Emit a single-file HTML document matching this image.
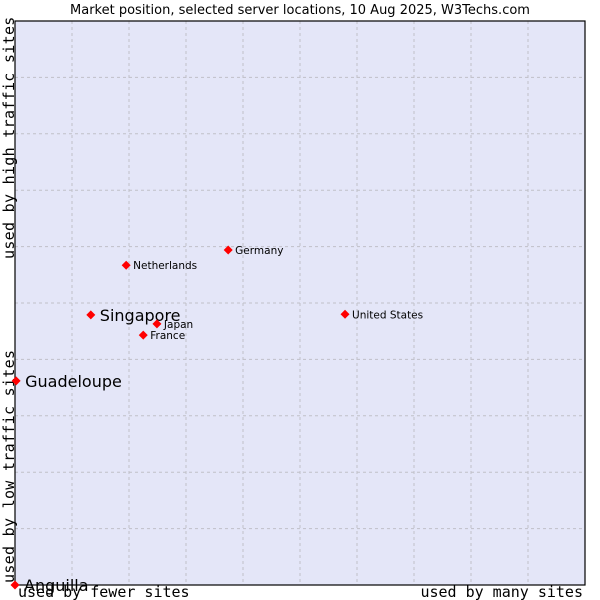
<!DOCTYPE html>
<html><head><meta charset="utf-8"><style>
body{margin:0;background:#fff;width:600px;height:600px;overflow:hidden}
svg{display:block}
</style></head><body>
<svg id="chart" width="600" height="600" xmlns="http://www.w3.org/2000/svg">
<text x="300" y="14" text-anchor="middle" font-family="'DejaVu Sans',sans-serif" font-size="13" fill="#000">Market position, selected server locations, 10 Aug 2025, W3Techs.com</text>
<rect x="15" y="21" width="570" height="564" fill="#e4e6f8"/>
<g id="grid"></g>
<rect x="15" y="21" width="570" height="564" fill="none" stroke="#000" stroke-width="1.2"/>
<text transform="translate(14,259) rotate(-90)" font-family="'DejaVu Sans Mono','Liberation Mono',monospace" font-size="15" letter-spacing="0.3">used by high traffic sites</text>
<text transform="translate(14,583) rotate(-90)" font-family="'DejaVu Sans Mono','Liberation Mono',monospace" font-size="15" letter-spacing="0.3">used by low traffic sites</text>
<text x="18" y="597" font-family="'DejaVu Sans Mono','Liberation Mono',monospace" font-size="15">used by fewer sites</text>
<text x="583" y="597" text-anchor="end" font-family="'DejaVu Sans Mono','Liberation Mono',monospace" font-size="15">used by many sites</text>
<g id="points"></g>
</svg>
<script>
const names=["Anguilla","Guadeloupe","Singapore","Japan","France","Netherlands","Germany","United States"];
const xValues=[0,0.02,1.33,2.49,2.25,1.95,3.74,5.79];
const yValues=[0,3.62,4.79,4.63,4.43,5.67,5.94,4.80];
const bigLabel=[true,true,true,false,false,false,false,false];
const NS="http://www.w3.org/2000/svg";
const X0=15,X1=585,Y0=585,Y1=21;
function sx(v){return X0+v/10*(X1-X0);}
function sy(v){return Y0-v/10*(Y0-Y1);}
const grid=document.getElementById('grid');
for(let i=1;i<10;i++){
 const a=document.createElementNS(NS,'line');
 
 
 a.setAttribute('x1',sx(i));a.setAttribute('x2',sx(i));a.setAttribute('y1',Y1);a.setAttribute('y2',Y0);
 a.setAttribute('stroke','#c0c0c8');a.setAttribute('stroke-dasharray','3,3');
 grid.appendChild(a);
 const b=document.createElementNS(NS,'line');
 
 
 b.setAttribute('y1',sy(i));b.setAttribute('y2',sy(i));b.setAttribute('x1',X0);b.setAttribute('x2',X1);
 b.setAttribute('stroke','#c0c0c8');b.setAttribute('stroke-dasharray','3,3');
 grid.appendChild(b);
}
const pts=document.getElementById('points');
names.forEach((n,i)=>{
 const x=sx(xValues[i]),y=sy(yValues[i]);
 const d=document.createElementNS(NS,'path');
 
 
 d.setAttribute('d',`M${x} ${y-4.5}L${x+4.5} ${y}L${x} ${y+4.5}L${x-4.5} ${y}Z`);
 d.setAttribute('fill','#ff0000');
 pts.appendChild(d);
 const t=document.createElementNS(NS,'text');
 
 
 t.setAttribute('x',x+(bigLabel[i]?9:7));
 t.setAttribute('y',y+(bigLabel[i]?6:4));
 t.setAttribute('font-family',"'DejaVu Sans',sans-serif");
 t.setAttribute('font-size',bigLabel[i]?16:10.5);
 t.textContent=n;
 pts.appendChild(t);
});
</script>
</body></html>
